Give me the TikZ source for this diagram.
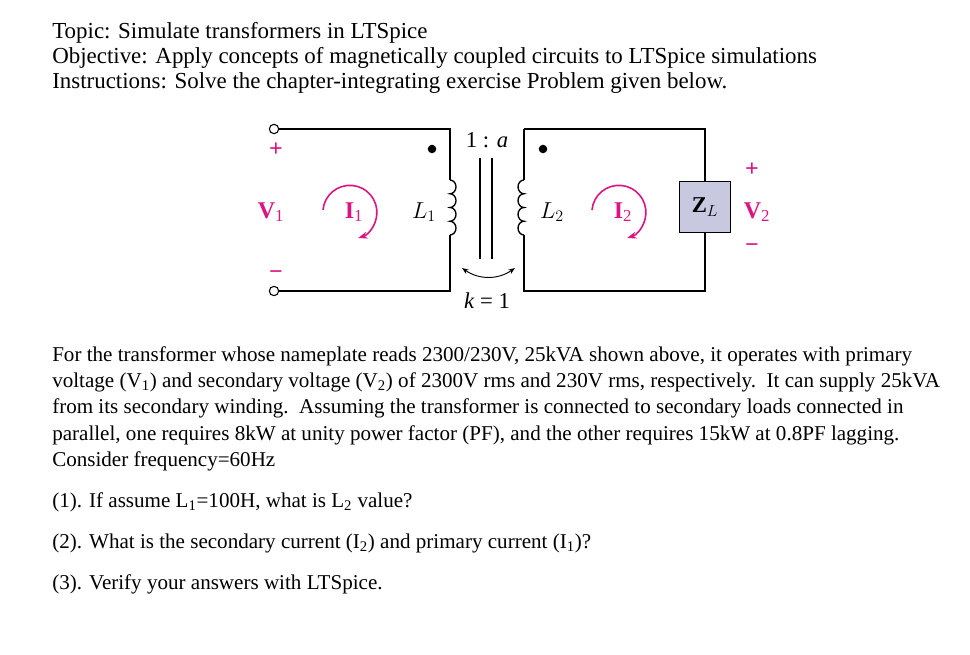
\documentclass[tikz,border=0pt]{standalone}
\usepackage{fontspec}
\setmainfont{Liberation Serif}
\usetikzlibrary{arrows.meta}
\definecolor{mag}{RGB}{220,20,130}
\definecolor{zbox}{RGB}{200,200,225}
\begin{document}
\begin{tikzpicture}[x=0.75pt,y=-0.75pt,
  txt/.style={anchor=west,inner sep=0,font=\fontsize{15.8}{18}\selectfont},
  htxt/.style={anchor=west,inner sep=0,font=\fontsize{17.2}{20}\selectfont},
  wire/.style={line width=1pt},
  lab/.style={inner sep=0,font=\fontsize{17}{20}\selectfont},
  ml/.style={inner sep=0,text=mag,font=\fontsize{18}{20}\selectfont\bfseries},
  term/.style={circle,draw,fill=white,inner sep=0,minimum size=7pt,line width=0.8pt},
  loop/.style={mag,line width=1.2pt,-{Stealth[length=7pt]}}]
\useasboundingbox (0,0) rectangle (970,655);
\node[htxt] (t1) at (52,33) {Topic: Simulate transformers in LTSpice};
\node[htxt] (t2) at (52,58) {Objective: Apply concepts of magnetically coupled circuits to LTSpice simulations};
\node[htxt] (t3) at (52,83) {Instructions: Solve the chapter-integrating exercise Problem given below.};
% circuit
\node[term] (a) at (274,129) {};
\node[term] (b) at (274,291) {};
\coordinate (p1) at (450,129); \coordinate (p2) at (450,291);
\coordinate (s1) at (524,129); \coordinate (s2) at (524,291);
\coordinate (r1) at (705,129); \coordinate (r2) at (705,291);
\node[draw,fill=zbox,line width=1.2pt,minimum width=38pt,minimum height=38pt,inner sep=0,font=\fontsize{17}{20}\selectfont] (zl) at (705,207) {$\mathbf{Z}_{L}$};
\draw[wire] (a) -- (p1) -- (450,180);
\draw[wire] (450,235) -- (p2) -- (b);
\draw[wire] (s1) -- (524,180);
\draw[wire] (524,235) -- (s2) -- (r2) -- (zl.south);
\draw[wire] (zl.north) -- (r1) -- (s1);
% coils
\draw[wire] (450,180) \foreach \i in {0,1,2,3} {arc[start angle=-90,end angle=90,x radius=6,y radius=6.875]};
\draw[wire] (524,180) \foreach \i in {0,1,2,3} {arc[start angle=-90,end angle=-270,x radius=6,y radius=6.875]};
\draw[line width=0.8pt] (480,158) -- (480,259) (492,158) -- (492,259);
\fill (432,149) circle (3.2pt) (543,149) circle (3.2pt);
\node[lab] (ra) at (487,140) {1 : \textit{a}};
\node[lab] (k) at (487,301) {\textit{k} = 1};
\draw[{Stealth[length=5pt]}-{Stealth[length=5pt]},line width=0.7pt] (462,268) to[bend right=35] (515,268);
\node[lab] (l1) at (424,212) {$L_1$};
\node[lab] (l2) at (552,212) {$L_2$};
\node[ml] at (276,150) {+};
\node[ml] at (276,275) {\textminus};
\node[ml] (v1) at (271,212) {V\textsubscript{\mdseries 1}};
\node[ml] at (752,170) {+};
\node[ml] at (752,248) {\textminus};
\node[ml] (v2) at (757,212) {V\textsubscript{\mdseries 2}};
\node[ml] (i1) at (354,212) {I\textsubscript{\mdseries 1}};
\node[ml] (i2) at (623,212) {I\textsubscript{\mdseries 2}};
\draw[loop] (323,210) arc[start angle=-175,end angle=72,radius=27];
\draw[loop] (592,210) arc[start angle=-175,end angle=72,radius=27];
% text
\node[txt] at (52,356) {For the transformer whose nameplate reads 2300/230V, 25kVA shown above, it operates with primary};
\node[txt] at (52,382) {voltage (V\textsubscript{1}) and secondary voltage (V\textsubscript{2}) of 2300V rms and 230V rms, respectively.\ \ It can supply 25kVA};
\node[txt] at (52,408) {from its secondary winding.\ \ Assuming the transformer is connected to secondary loads connected in};
\node[txt] at (52,435) {parallel, one requires 8kW at unity power factor (PF), and the other requires 15kW at 0.8PF lagging.};
\node[txt] at (52,461) {Consider frequency=60Hz};
\node[txt] at (52,502) {(1). If assume L\textsubscript{1}=100H, what is L\textsubscript{2} value?};
\node[txt] at (52,543) {(2). What is the secondary current (I\textsubscript{2}) and primary current (I\textsubscript{1})?};
\node[txt] at (52,584) {(3). Verify your answers with LTSpice.};
\end{tikzpicture}
\end{document}
